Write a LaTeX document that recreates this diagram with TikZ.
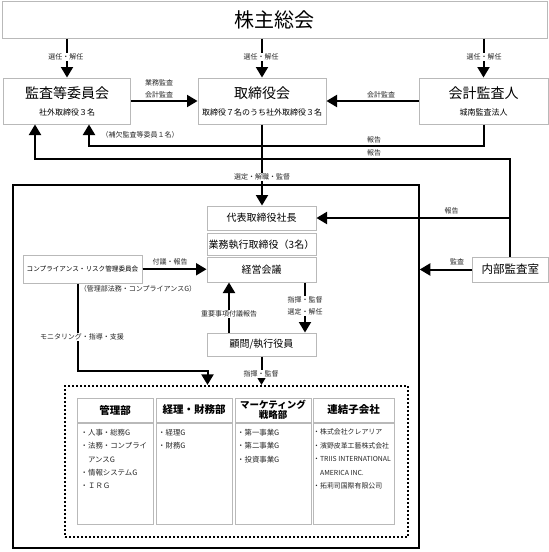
\documentclass[tikz,border=0pt]{standalone}
\usepackage{fontspec}
\setmainfont{Noto Sans CJK JP}
\usetikzlibrary{arrows.meta,positioning,calc}

\begin{document}
\begin{tikzpicture}[x=1pt,y=-1pt]
\tikzset{
    box/.style={draw=gray!55,line width=1pt,fill=white,inner sep=0pt,align=center},
    topbox/.style={box,minimum height=46pt,font=\fontsize{8}{12}\selectfont},
    midbox/.style={box,minimum width=109pt,font=\fontsize{10}{12}\selectfont},
    head/.style={box,minimum height=24pt,font=\fontsize{10.5}{10}\selectfont\bfseries},
    body/.style={box,minimum height=101pt},
    items/.style={anchor=north west,inner sep=0pt,align=left,text=black!85,font=\fontsize{7.4}{13.4}\selectfont},
    lbl/.style={inner sep=1pt,align=center,text=black!85,font=\fontsize{7}{11.5}\selectfont},
    cut/.style={lbl,fill=white},
    arr/.style={-{Triangle[length=10.5pt,width=12pt]},line width=2pt}
}
\useasboundingbox (0,0) rectangle (549,552);
% vertices
\node[box,minimum width=545pt,minimum height=37pt,font=\fontsize{20}{20}\selectfont] (gm) at (274.5,19.5) {株主総会};
\node[topbox,minimum width=127pt] (ac) at (67,101) {{\fontsize{14}{14}\selectfont 監査等委員会}\\[5pt]社外取締役３名};
\node[topbox,minimum width=128pt] (bd) at (262,101) {{\fontsize{14}{14}\selectfont 取締役会}\\[5pt]取締役７名のうち社外取締役３名};
\node[topbox,minimum width=129pt] (ca) at (483.5,101) {{\fontsize{14}{14}\selectfont 会計監査人}\\[5pt]城南監査法人};

\node[draw,line width=1.5pt,minimum width=406pt,minimum height=363pt] (frame) at (216,366.5) {};
\node[midbox,minimum height=24pt] (pres) at (261.5,218) {代表取締役社長};
\node[midbox,minimum height=22.5pt] (exe) at (261.5,244.25) {業務執行取締役（3名）};
\node[midbox,minimum height=24.5pt] (mtg) at (261.5,269.75) {経営会議};
\node[midbox,minimum height=23pt] (adv) at (261.5,344.5) {顧問/執行役員};
\node[box,minimum width=75.5pt,minimum height=25pt,font=\fontsize{11.5}{12}\selectfont] (ia) at (510.25,269.5) {内部監査室};
\node[box,minimum width=119pt,minimum height=27.5pt,font=\fontsize{6.6}{8}\selectfont] (crc) at (82.5,269.25) {コンプライアンス・リスク管理委員会};

\node[draw,line width=1.8pt,dash pattern=on 1.8pt off 2.2pt,minimum width=343pt,minimum height=151pt] (dot) at (236.5,461.3) {};
\node[head,minimum width=76pt] (h1) at (115,410) {管理部};
\node[head,minimum width=76pt] (h2) at (194,410) {経理・財務部};
\node[head,minimum width=76pt,font=\fontsize{9.5}{9.5}\selectfont\bfseries] (h3) at (273,410) {マーケティング\\戦略部};
\node[head,minimum width=81pt] (h4) at (353.5,410) {連結子会社};
\node[body,minimum width=76pt] (b1) at (115,473.5) {};
\node[body,minimum width=76pt] (b2) at (194,473.5) {};
\node[body,minimum width=76pt] (b3) at (273,473.5) {};
\node[body,minimum width=81pt] (b4) at (353.5,473.5) {};
\node[items] (t1) at ([shift={(4,6.4)}]b1.north west) {・人事・総務G\\・法務・コンプライ\\\hspace*{1em}アンスG\\・情報システムG\\・ＩＲＧ};
\node[items] (t2) at ([shift={(2.5,6.4)}]b2.north west) {・経理G\\・財務G};
\node[items] (t3) at ([shift={(2.5,6.4)}]b3.north west) {・第一事業G\\・第二事業G\\・投資事業G};
\node[items,font=\fontsize{6.9}{13.4}\selectfont] (t4) at ([shift={(0.5,6.4)}]b4.north west) {・株式会社クレアリア\\・濱野皮革工藝株式会社\\・TRIIS INTERNATIONAL\\\hspace*{1em}AMERICA INC.\\・拓莉司国際有限公司};

\coordinate (r1) at (89,145.5);
\coordinate (r2) at (35,159);
\coordinate (m1) at (207.5,371);
% edges
\draw[arr] (gm.south -| ac.north) -- (ac.north);
\draw[arr] (gm.south -| bd.north) -- (bd.north);
\draw[arr] (gm.south -| ca.north) -- (ca.north);
\draw[arr] (ac.east) -- (bd.west);
\draw[arr] (ca.west) -- (bd.east);
\draw[arr] (ca.south) |- (r1) -- (r1 |- ac.south);
\draw[arr] (ia.north) |- (r2) -- (r2 |- ac.south);
\draw[arr] (bd.south) -- (bd.south |- pres.north);
\draw[arr] (ia.north |- pres.east) -- (pres.east);
\draw[arr] (ia.west) -- (ia.west -| frame.east);
\draw[arr] (crc.east) -- (crc.east -| mtg.west);
\draw[arr] ([xshift=43.5pt]mtg.south) -- ([xshift=43.5pt]adv.north);
\draw[arr] ([xshift=-32.5pt]adv.north) -- ([xshift=-32.5pt]mtg.south);
\draw[arr] ([xshift=-5pt]crc.south) |- (m1) -- (m1 |- dot.north);
\draw[arr] (adv.south) -- (adv.south |- dot.north);

% labels
\node[cut] (s1) at (66,57) {選任・解任};
\node[cut] (s2) at (261,57) {選任・解任};
\node[cut] (s3) at (484,57) {選任・解任};
\node[lbl] (a1) at (159,89) {業務監査\\会計監査};
\node[lbl] (a2) at (381,94.5) {会計監査};
\node[lbl] (sub) at (140,135) {（補欠監査等委員１名）};
\node[lbl] (p1) at (374,140) {報告};
\node[lbl] (p2) at (374,152.5) {報告};
\node[cut] (d1) at (262,177) {選定・解職・監督};
\node[lbl] (p3) at (451.5,211) {報告};
\node[lbl] (a3) at (457,262) {監査};
\node[lbl] (f1) at (170,262) {付議・報告};
\node[lbl] (c1) at (138,289) {（管理部法務・コンプライアンスG）};
\node[cut] (c2) at (82,337) {モニタリング・指導・支援};
\node[cut] (g1) at (305,306) {指揮・監督\\選定・解任};
\node[cut] (g2) at (229,314) {重要事項付議報告};
\node[cut] (g3) at (261,374) {指揮・監督};
\end{tikzpicture}
\end{document}
